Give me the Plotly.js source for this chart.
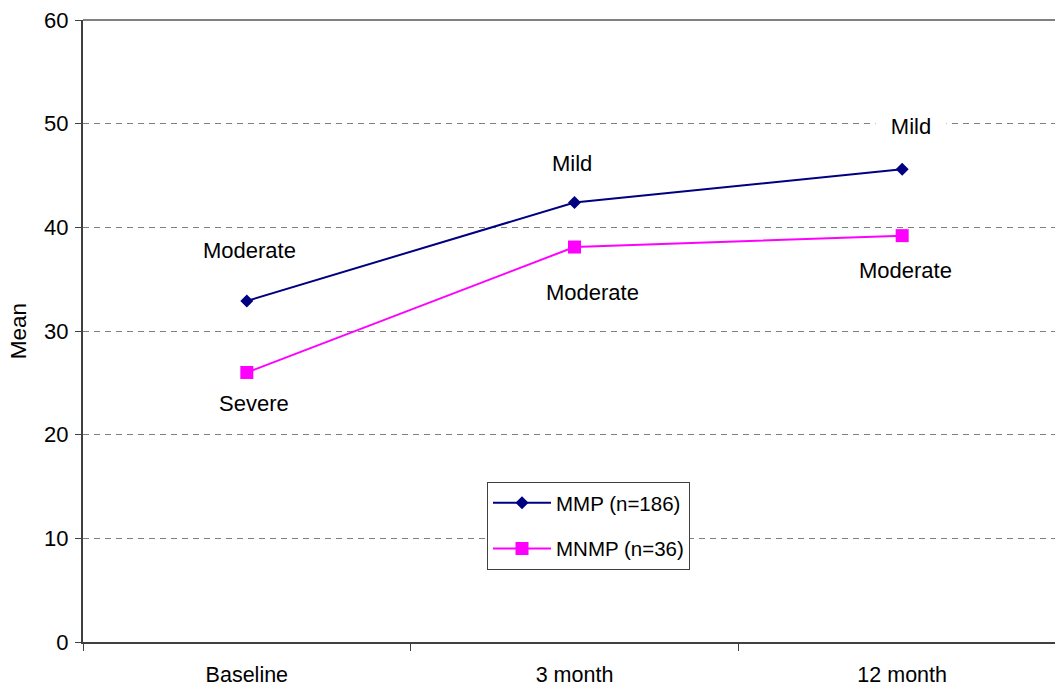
<!DOCTYPE html>
<html>
<head>
<meta charset="utf-8">
<script src="https://cdn.plot.ly/plotly-3.0.1.min.js"></script>
<style>
html,body{margin:0;padding:0;overflow:hidden;background:#fff;width:1055px;height:686px;}
#chart{width:1070px;height:686px;}
</style>
</head>
<body>
<div id="chart"></div>
<script>
const categories = ["Baseline", "3 month", "12 month"];
const seriesNames = ["MMP (n=186)", "MNMP (n=36)"];
const mmpValues = [32.9, 42.4, 45.6];
const mnmpValues = [26.0, 38.1, 39.2];
const mmpLabels = ["Moderate", "Mild", "Mild"];
const mnmpLabels = ["Severe", "Moderate", "Moderate"];
const yTicks = [0, 10, 20, 30, 40, 50, 60];

const FONT = "Liberation Sans, Arial, sans-serif";

const traces = [
  {
    x: categories, y: mmpValues, name: seriesNames[0], type: "scatter", mode: "lines+markers",
    line: {color: "#000080", width: 2},
    marker: {symbol: "diamond", size: 10, color: "#000080"},
    legendgroup: "a", hoverinfo: "x+y"
  },
  {
    x: categories, y: mnmpValues, name: seriesNames[1], type: "scatter", mode: "lines+markers",
    line: {color: "#FF00FF", width: 2},
    marker: {symbol: "square", size: 13, color: "#FF00FF"},
    legendgroup: "b", hoverinfo: "x+y"
  }
];

// label offsets (px) relative to each point: [xshift, yshift]
const mmpOffsets = [[3, 50], [-3, 39], [9, 43]];
const mnmpOffsets = [[7, -31], [18, -45], [3, -35]];

const annotations = [];
categories.forEach((c, i) => {
  annotations.push({
    x: c, y: mmpValues[i], xref: "x", yref: "y", text: mmpLabels[i], showarrow: false,
    xshift: mmpOffsets[i][0], yshift: mmpOffsets[i][1],
    font: {family: FONT, size: 22, color: "#000"},
    bgcolor: i === 2 ? "#ffffff" : "rgba(0,0,0,0)", width: i === 2 ? 70 : null, borderpad: 0
  });
  annotations.push({
    x: c, y: mnmpValues[i], xref: "x", yref: "y", text: mnmpLabels[i], showarrow: false,
    xshift: mnmpOffsets[i][0], yshift: mnmpOffsets[i][1],
    font: {family: FONT, size: 22, color: "#000"}
  });
});

const layout = {
  width: 1070, height: 686,
  margin: {l: 83, r: 4, t: 20, b: 44},
  paper_bgcolor: "#fff", plot_bgcolor: "#fff",
  font: {family: FONT, size: 22, color: "#000"},
  showlegend: true,
  legend: {
    x: (487 - 83) / 983, y: (642 - 482) / 622, xanchor: "left", yanchor: "top",
    bgcolor: "#fff", bordercolor: "#404040", borderwidth: 1,
    font: {family: FONT, size: 20.5, color: "#000"},
    tracegroupgap: 16, itemwidth: 58
  },
  xaxis: {
    type: "category", range: [-0.5, 2.5], fixedrange: true,
    showline: true, linecolor: "#404040", linewidth: 2,
    ticks: "outside", ticklen: 7, tickcolor: "#404040", tickwidth: 1,
    tickson: "boundaries", showgrid: false, zeroline: false,
    ticklabelstandoff: 12,
    tickfont: {family: FONT, size: 21.5, color: "#000"}
  },
  yaxis: {
    range: [0, 60], tickvals: yTicks, fixedrange: true,
    showline: true, linecolor: "#404040", linewidth: 2,
    ticks: "outside", ticklen: 6, tickcolor: "#404040", tickwidth: 1,
    showgrid: true, gridcolor: "#808080", gridwidth: 1, griddash: "6px,5px",
    zeroline: false, ticklabelstandoff: 2,
    tickfont: {family: FONT, size: 22, color: "#000"},
    title: {text: "Mean", font: {family: FONT, size: 22.5, color: "#000"}, standoff: 11}
  },
  shapes: [
    {type: "line", xref: "paper", yref: "paper", x0: 0, x1: 1, y0: 1, y1: 1,
     line: {color: "#808080", width: 2}, layer: "above"}
  ],
  annotations: annotations
};

Plotly.newPlot("chart", traces, layout, {displayModeBar: false, staticPlot: true});
</script>
</body>
</html>
